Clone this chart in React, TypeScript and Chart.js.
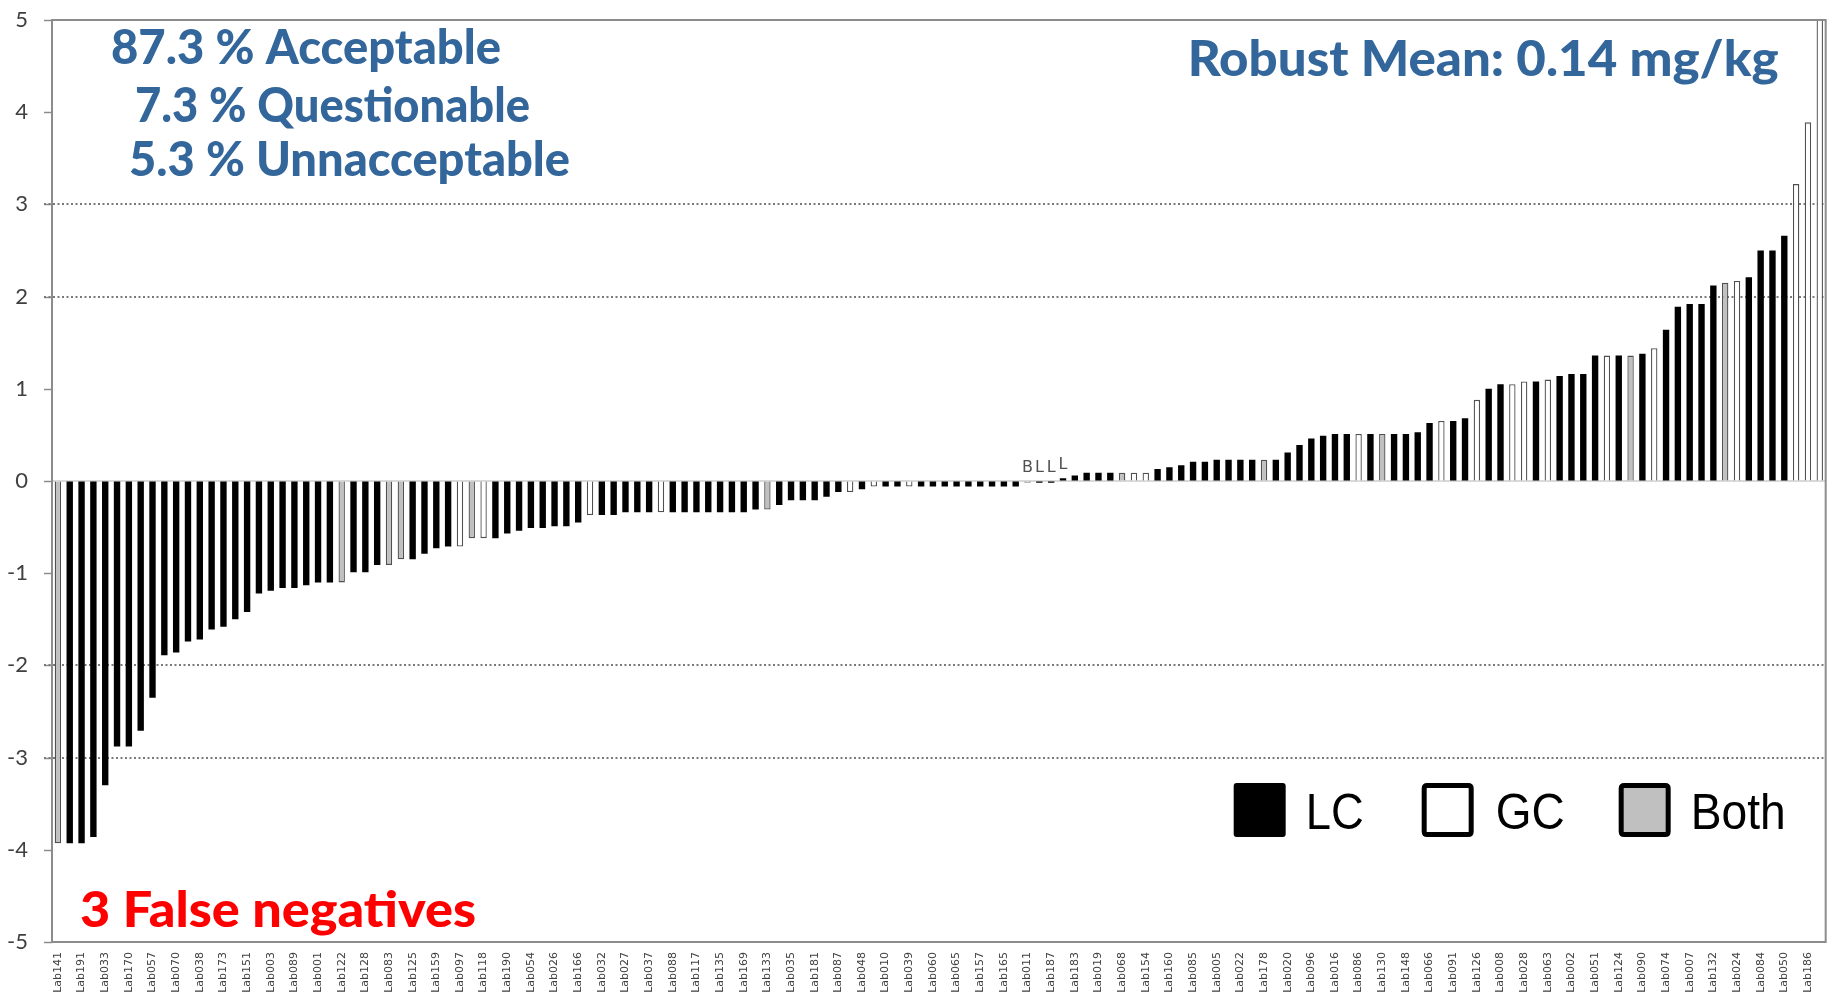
import React, { useEffect, useRef } from 'react';
import { Chart, registerables } from 'chart.js';

Chart.register(...registerables);

// Visible lab labels (every other bar carries a label)
const labNames = [
  'Lab141', 'Lab191', 'Lab033', 'Lab170', 'Lab057', 'Lab070', 'Lab038', 'Lab173', 'Lab151', 'Lab003',
  'Lab089', 'Lab001', 'Lab122', 'Lab128', 'Lab083', 'Lab125', 'Lab159', 'Lab097', 'Lab118', 'Lab190',
  'Lab054', 'Lab026', 'Lab166', 'Lab032', 'Lab027', 'Lab037', 'Lab088', 'Lab117', 'Lab135', 'Lab169',
  'Lab133', 'Lab035', 'Lab181', 'Lab087', 'Lab048', 'Lab010', 'Lab039', 'Lab060', 'Lab065', 'Lab157',
  'Lab165', 'Lab011', 'Lab187', 'Lab183', 'Lab019', 'Lab068', 'Lab154', 'Lab160', 'Lab085', 'Lab005',
  'Lab022', 'Lab178', 'Lab020', 'Lab096', 'Lab016', 'Lab086', 'Lab130', 'Lab148', 'Lab066', 'Lab091',
  'Lab126', 'Lab008', 'Lab028', 'Lab063', 'Lab002', 'Lab051', 'Lab124', 'Lab090', 'Lab074', 'Lab007',
  'Lab132', 'Lab024', 'Lab084', 'Lab050', 'Lab186',
];

// z-scores, sorted, one per laboratory (150)
const zScores = [
  -3.93, -3.93, -3.93, -3.86, -3.30, -2.88, -2.88, -2.71, -2.35, -1.89,
  -1.86, -1.74, -1.72, -1.61, -1.58, -1.50, -1.42, -1.22, -1.19, -1.16,
  -1.16, -1.13, -1.10, -1.10, -1.10, -0.99, -0.99, -0.91, -0.91, -0.85,
  -0.85, -0.79, -0.73, -0.71, -0.71, -0.62, -0.62, -0.62, -0.57, -0.54,
  -0.51, -0.51, -0.49, -0.49, -0.45, -0.37, -0.37, -0.37, -0.34, -0.34,
  -0.34, -0.34, -0.34, -0.34, -0.34, -0.34, -0.34, -0.34, -0.34, -0.31,
  -0.31, -0.26, -0.21, -0.21, -0.21, -0.17, -0.12, -0.12, -0.09, -0.06,
  -0.06, -0.06, -0.06, -0.06, -0.06, -0.06, -0.06, -0.06, -0.06, -0.06,
  -0.06, -0.06, -0.02, -0.02, -0.02, 0.03, 0.06, 0.09, 0.09, 0.09,
  0.09, 0.09, 0.09, 0.13, 0.15, 0.17, 0.21, 0.21, 0.23, 0.23,
  0.23, 0.23, 0.23, 0.23, 0.31, 0.39, 0.46, 0.49, 0.51, 0.51,
  0.51, 0.51, 0.51, 0.51, 0.51, 0.53, 0.63, 0.65, 0.65, 0.68,
  0.88, 1.00, 1.05, 1.05, 1.08, 1.08, 1.10, 1.14, 1.16, 1.16,
  1.36, 1.36, 1.36, 1.36, 1.38, 1.44, 1.64, 1.89, 1.92, 1.92,
  2.12, 2.15, 2.17, 2.21, 2.50, 2.50, 2.66, 3.22, 3.89, 5.60,
];

// Method per bar: L = LC, G = GC, B = Both
const methodRows = [
  'BLLLLLLLLL', 'LLLLLLLLLL', 'LLLLBLLLBB', 'LLLLGBGLLL', 'LLLLLGLLLL',
  'LGLLLLLLLL', 'BLLLLLLGLG', 'LLGLLLLLLL', 'LLBLLLLLLL', 'BGGLLLLLLL',
  'LLBLLLLLLL', 'GLBLLLLGLL', 'GLLGGLGLLL', 'LGLBLGLLLL', 'LBGLLLLGGG',
];
const methods = methodRows.join('').split('');

const categories = zScores.map((_, i) => (i % 2 === 0 ? labNames[i / 2] : ''));

const dottedLevels = [-3, -2, 2, 3];
const legendKeys = ['L', 'G', 'B'];
const legendLabels = ['LC', 'GC', 'Both'];
const summaryLines = ['87.3 % Acceptable', '7.3 % Questionable', '5.3 % Unnacceptable'];
const meanText = 'Robust Mean: 0.14 mg/kg';
const falseNegText = '3 False negatives';

const FILL: Record<string, string> = { L: '#000000', G: '#ffffff', B: '#c0c0c0' };
const EDGE: Record<string, string> = { L: '#000000', G: '#505050', B: '#505050' };
const BLUE = '#33669a';
const AXIS_GREY = '#8c8c8c';

function fitText(ctx: CanvasRenderingContext2D, text: string, x: number, y: number, w: number, font: string, color: string) {
  ctx.save();
  ctx.font = font;
  ctx.fillStyle = color;
  ctx.textAlign = 'left';
  ctx.textBaseline = 'alphabetic';
  const m = ctx.measureText(text).width || 1;
  ctx.translate(x, y);
  ctx.scale(w / m, 1);
  ctx.fillText(text, 0, 0);
  ctx.restore();
}

function roundRect(ctx: CanvasRenderingContext2D, x: number, y: number, w: number, h: number, r: number) {
  ctx.beginPath();
  ctx.moveTo(x + r, y);
  ctx.lineTo(x + w - r, y);
  ctx.quadraticCurveTo(x + w, y, x + w, y + r);
  ctx.lineTo(x + w, y + h - r);
  ctx.quadraticCurveTo(x + w, y + h, x + w - r, y + h);
  ctx.lineTo(x + r, y + h);
  ctx.quadraticCurveTo(x, y + h, x, y + h - r);
  ctx.lineTo(x, y + r);
  ctx.quadraticCurveTo(x, y, x + r, y);
  ctx.closePath();
}

const decorPlugin = {
  id: 'decor',
  beforeDatasetsDraw(chart: any) {
    const { ctx, chartArea: ca, scales } = chart;
    const y = scales.y;
    ctx.save();
    // short tick marks on the value axis
    ctx.strokeStyle = AXIS_GREY;
    ctx.lineWidth = 1.5;
    y.ticks.forEach((t: any) => {
      const py = Math.round(y.getPixelForValue(t.value)) + 0.5;
      ctx.beginPath();
      ctx.moveTo(ca.left - 8, py);
      ctx.lineTo(ca.left, py);
      ctx.stroke();
    });
    // zero line
    const y0 = y.getPixelForValue(0);
    ctx.strokeStyle = '#d9d9d9';
    ctx.lineWidth = 2;
    ctx.beginPath();
    ctx.moveTo(ca.left, y0);
    ctx.lineTo(ca.right, y0);
    ctx.stroke();
    // dotted limit lines
    ctx.strokeStyle = '#7a7a7a';
    ctx.lineWidth = 2;
    ctx.setLineDash([2, 2.5]);
    dottedLevels.forEach((v) => {
      const py = Math.round(y.getPixelForValue(v));
      ctx.beginPath();
      ctx.moveTo(ca.left - 8, py);
      ctx.lineTo(ca.right, py);
      ctx.stroke();
    });
    ctx.restore();
  },
  afterDatasetsDraw(chart: any) {
    const { ctx, chartArea: ca, scales } = chart;
    const x = scales.x;
    const y = scales.y;
    ctx.save();
    // plot border
    ctx.strokeStyle = AXIS_GREY;
    ctx.lineWidth = 2;
    ctx.strokeRect(ca.left, ca.top, ca.right - ca.left, ca.bottom - ca.top);
    // method tags above near-zero bars
    ctx.font = '16px "DejaVu Sans"';
    ctx.fillStyle = '#505050';
    ctx.textAlign = 'center';
    ctx.textBaseline = 'bottom';
    zScores.forEach((v, i) => {
      if (Math.abs(v) < 0.05) {
        const px = x.getPixelForValue(i);
        const py = Math.min(y.getPixelForValue(0), y.getPixelForValue(v)) - 5;
        ctx.fillText(methods[i], px, py);
      }
    });
    ctx.restore();
  },
  afterDraw(chart: any) {
    const { ctx, chartArea: ca } = chart;
    const L = ca.left;
    const T = ca.top;
    const R = ca.right;
    const B = ca.bottom;
    // summary text
    const sx = [L + 59, L + 83, L + 77];
    const sy = [T + 44, T + 102, T + 156];
    const sw = [390, 395, 441];
    summaryLines.forEach((t, i) => fitText(ctx, t, sx[i], sy[i], sw[i], '900 47px Lato', BLUE));
    fitText(ctx, meanText, R - 638, T + 56, 591, '900 50px Lato', BLUE);
    fitText(ctx, falseNegText, L + 28, B - 15, 396, '900 49px Lato', '#ff0000');
    // legend
    const boxX = [R - 592, R - 404, R - 207];
    const txtX = [R - 520, R - 330, R - 135];
    const txtW = [58, 69, 95];
    const boxTop = B - 159;
    const boxW = 52;
    const boxH = 54;
    legendKeys.forEach((k, i) => {
      ctx.save();
      if (k === 'L') {
        roundRect(ctx, boxX[i], boxTop, boxW, boxH, 3);
        ctx.fillStyle = FILL[k];
        ctx.fill();
      } else {
        roundRect(ctx, boxX[i] + 2.5, boxTop + 2.5, boxW - 5, boxH - 5, 3);
        ctx.fillStyle = FILL[k];
        ctx.fill();
        ctx.strokeStyle = '#000000';
        ctx.lineWidth = 5;
        ctx.stroke();
      }
      ctx.restore();
      fitText(ctx, legendLabels[i], txtX[i], boxTop + 46, txtW[i], '50px "Liberation Sans Narrow", "Liberation Sans"', '#000000');
    });
  },
};

export default function App() {
  const ref = useRef<HTMLCanvasElement | null>(null);
  useEffect(() => {
    document.body.style.margin = '0';
    const canvas = ref.current;
    if (!canvas) return;
    const chart = new Chart(canvas, {
      type: 'bar',
      data: {
        labels: categories,
        datasets: [
          {
            data: zScores,
            backgroundColor: methods.map((m) => FILL[m]),
            borderColor: methods.map((m) => EDGE[m]),
            borderWidth: methods.map((m) => (m === 'L' ? 0 : 1.3)),
            barPercentage: 0.54,
            categoryPercentage: 1,
          },
        ],
      },
      options: {
        responsive: false,
        animation: false,
        layout: { padding: { top: 20, right: 9, left: 0, bottom: 0 } },
        plugins: { legend: { display: false }, tooltip: { enabled: false } },
        scales: {
          x: {
            grid: { display: false },
            border: { display: false },
            ticks: {
              autoSkip: false,
              minRotation: 90,
              maxRotation: 90,
              padding: 2,
              color: '#404040',
              font: { family: '"DejaVu Sans"', size: 11 },
            },
            afterFit: (s: any) => {
              s.height = 60;
            },
          },
          y: {
            min: -5,
            max: 5,
            ticks: {
              stepSize: 1,
              padding: 2,
              color: '#404040',
              font: { family: 'Lato', size: 22 },
            },
            grid: { drawOnChartArea: false, drawTicks: true, tickLength: 22, tickColor: 'rgba(0,0,0,0)' },
            border: { display: false },
            afterFit: (s: any) => {
              s.width = 52;
            },
          },
        },
      },
      plugins: [decorPlugin],
    } as any);
    return () => chart.destroy();
  }, []);
  return <canvas ref={ref} width={1835} height={1002} style={{ display: 'block', width: 1835, height: 1002 }} />;
}
